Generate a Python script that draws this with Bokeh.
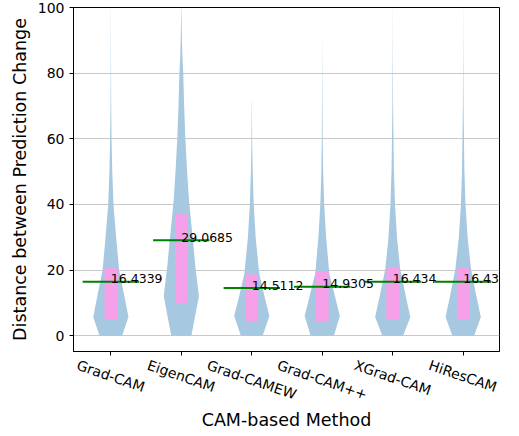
import math
from bokeh.plotting import figure
from bokeh.models import Range1d, FixedTicker, Label, CustomJSTickFormatter, LinearAxis
from bokeh.embed import file_html
from bokeh.resources import INLINE

# ---------------- data ----------------
methods = ["Grad-CAM", "EigenCAM", "Grad-CAMEW", "Grad-CAM++", "XGrad-CAM", "HiResCAM"]
positions = [1, 2, 3, 4, 5, 6]
medians = [16.4339, 29.0685, 14.5112, 14.9305, 16.434, 16.4339]
q1 = [4.9, 10.0, 4.2, 4.5, 4.9, 4.9]
q3 = [20.7, 37.0, 18.7, 19.5, 20.7, 20.7]

# violin outlines: value levels and relative density (1 = widest)
gradcam_y = [0, 5.7, 12, 20, 30, 40, 50, 60, 70, 80, 90, 100]
gradcam_w = [0.64, 1.0, 0.77, 0.47, 0.30, 0.15, 0.08, 0.04, 0.02, 0.012, 0.007, 0.003]
eigencam_y = [0, 12, 21, 29, 41, 50, 60, 70, 80, 84, 90, 100]
eigencam_w = [0.57, 1.0, 0.80, 0.66, 0.44, 0.33, 0.23, 0.16, 0.11, 0.07, 0.035, 0.005]
gradcamew_y = [0, 6, 12, 19, 30, 40, 50, 60, 72]
gradcamew_w = [0.62, 1.0, 0.72, 0.42, 0.22, 0.11, 0.05, 0.02, 0.003]
gradcampp_y = [0, 6, 12, 19, 30, 40, 50, 60, 75, 90]
gradcampp_w = [0.66, 1.0, 0.72, 0.40, 0.22, 0.11, 0.05, 0.025, 0.01, 0.002]
xgradcam_y = [0, 5.7, 12, 20.5, 30, 40, 50, 57, 70, 85, 100]
xgradcam_w = [0.59, 1.0, 0.74, 0.42, 0.24, 0.13, 0.07, 0.05, 0.02, 0.008, 0.002]
hirescam_y = [0, 5.7, 12, 20.5, 30, 40, 50, 57, 70, 85, 100]
hirescam_w = [0.62, 1.0, 0.75, 0.44, 0.25, 0.13, 0.07, 0.05, 0.02, 0.008, 0.002]

violin_y = [gradcam_y, eigencam_y, gradcamew_y, gradcampp_y, xgradcam_y, hirescam_y]
violin_w = [gradcam_w, eigencam_w, gradcamew_w, gradcampp_w, xgradcam_w, hirescam_w]

# ---------------- styles / layout ----------------
W, H = 519, 436
BL, BR, BT, BB = 73, 20, 7, 85
XLO, XHI = 0.47, 6.515
YLO, YHI = -4.8, 100
FONT = "DejaVu Sans"
VIOLIN = "#a6c9e1"
BOX = "#f5a0e9"
MED = "#008000"
HALF = 0.25
BOXHALF = 0.09
MEDHALF = 0.4
THETA = math.radians(19)
TICKFS = 14
# approximate DejaVu Sans advance widths (em/1000) for label-extent estimation
CHAR_W = {"G": 775, "r": 411, "a": 613, "d": 635, "-": 361, "C": 698, "A": 684,
          "M": 863, "E": 632, "i": 278, "g": 635, "e": 615, "n": 634, "W": 989,
          "+": 838, "X": 685, "H": 752, "R": 695, "s": 521}

p = figure(width=W, height=H, output_backend="svg", toolbar_location=None,
           x_range=Range1d(XLO, XHI), y_range=Range1d(YLO, YHI),
           min_border_left=BL, min_border_right=BR, min_border_top=BT, min_border_bottom=BB)
p.background_fill_color = "white"
p.border_fill_color = "white"
p.outline_line_color = "black"
p.outline_line_width = 1
p.xgrid.visible = False
p.ygrid.grid_line_color = "#c8c8c8"
p.ygrid.grid_line_width = 1

frame_w = W - BL - BR
px_per_x = frame_w / (XHI - XLO)

# second (label-only) x axis: rotated names, centred beneath each tick
label_ticks = []
for pos, name in zip(positions, methods):
    w = sum(CHAR_W.get(c, 620) for c in name) / 1000 * TICKFS
    label_ticks.append(pos - (w * math.cos(THETA) / 2) / px_per_x)
name_axis = LinearAxis(ticker=FixedTicker(ticks=label_ticks),
                       formatter=CustomJSTickFormatter(args=dict(names=methods),
                                                       code="return names[index]"))
p.add_layout(name_axis, "below")

main_x = p.xaxis[0]
p.yaxis.ticker = FixedTicker(ticks=[0, 20, 40, 60, 80, 100])
main_x.ticker = FixedTicker(ticks=positions)
main_x.formatter = CustomJSTickFormatter(code="return ''")
main_x.major_label_standoff = 0
for ax in (main_x, name_axis, p.yaxis[0]):
    ax.axis_line_color = "black"
    ax.major_tick_line_color = "black"
    ax.major_tick_out = 4
    ax.major_tick_in = 0
    ax.minor_tick_line_color = None
    ax.major_label_text_font = FONT
    ax.major_label_text_font_size = f"{TICKFS}px"
    ax.major_label_text_color = "black"
    ax.axis_label_text_font = FONT
    ax.axis_label_text_font_size = "17.5px"
    ax.axis_label_text_font_style = "normal"
    ax.axis_label_text_color = "black"

name_axis.axis_line_color = None
name_axis.major_tick_line_color = None
name_axis.major_tick_out = 0
name_axis.major_label_standoff = 9
name_axis.major_label_orientation = -THETA
name_axis.axis_label = "CAM-based Method"
name_axis.axis_label_standoff = -3
p.yaxis.axis_label = "Distance between Prediction Change"

# violins
xs, ys = [], []
for pos, vy, vw in zip(positions, violin_y, violin_w):
    right = [pos + HALF * w for w in vw]
    left = [pos - HALF * w for w in vw]
    xs.append(right + left[::-1])
    ys.append(list(vy) + list(vy)[::-1])
p.patches(xs, ys, fill_color=VIOLIN, line_color=None)

# interquartile boxes
p.quad(left=[x - BOXHALF for x in positions], right=[x + BOXHALF for x in positions],
       bottom=q1, top=q3, fill_color=BOX, line_color=None)

# median lines
p.segment(x0=[x - MEDHALF for x in positions], x1=[x + MEDHALF for x in positions],
          y0=medians, y1=medians, line_color=MED, line_width=2)

# median labels
for pos, m in zip(positions, medians):
    p.add_layout(Label(x=pos, y=m, text=f"{m:g}", y_offset=3,
                       text_align="left", text_baseline="alphabetic",
                       text_font=FONT, text_font_size="12.5px", text_color="black"))

open("out.html", "w").write(file_html(p, INLINE))
